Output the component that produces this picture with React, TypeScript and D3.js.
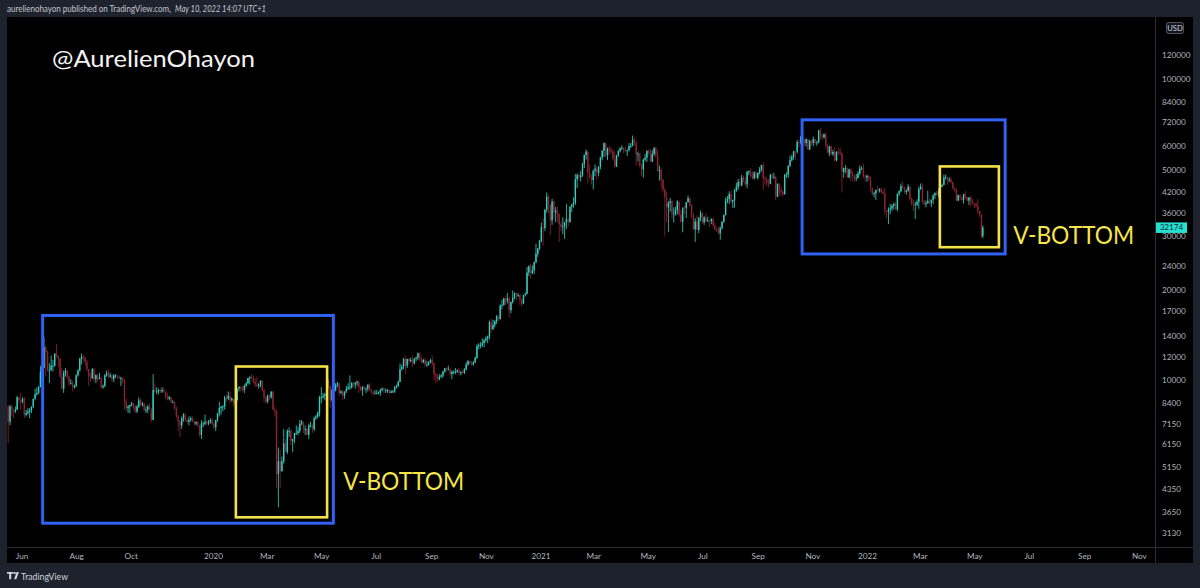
import React from 'react';
import * as d3 from 'd3';

const W = 1200;
const H = 588;

// BTCUSD, two-day candles starting 2019-05-16; values in hundreds of USD: [high, low, close]
const START = '2019-05-16';
const FIRST_OPEN = 82;

const candles2019 = [
  [83,62,73],[83,71,82],[83,76,80],[80,75,79],[82,78,80],[89,80,88],[88,84,86],[91,80,85],[88,84,87],[88,75,77],
  [80,76,78],[81,77,79],[81,75,80],[82,78,82],[87,81,87],[94,86,90],[95,89,91],[96,90,95],[112,95,107],[113,104,110],
  [139,110,129],[131,103,124],[126,107,108],[114,98,108],[121,108,112],[117,107,112],[123,111,123],[132,119,121],[121,111,118],[119,102,103],
  [110,93,94],[108,91,106],[110,103,108],[108,101,103],[104,96,98],[101,97,98],[100,92,95],[97,94,96],[105,95,104],[109,103,108],
  [119,107,118],[123,113,120],[122,116,119],[120,112,115],[117,107,109],[109,96,103],[106,99,102],[110,101,109],[110,99,101],[105,98,104],
  [105,99,101],[106,101,102],[103,94,95],[97,94,96],[105,95,104],[108,103,106],[109,102,103],[106,102,104],[105,99,101],[105,99,104],
  [105,102,104],[104,101,103],[104,101,102],[103,96,102],[102,98,100],[101,80,85],[87,79,81],[83,78,82],[83,78,83],[85,82,84],
  [84,80,82],[83,78,79],[83,78,82],[88,81,86],[87,82,83],[85,82,84],[84,79,80],[82,78,80],[83,78,82],[84,80,80],
  [81,73,74],[105,74,93],[98,91,92],[95,90,92],[94,90,93],[94,91,92],[95,91,93],[95,91,92],[92,87,88],[91,86,87],
  [89,86,88],[88,84,85],[86,84,85],[85,80,81],[82,75,76],[77,68,73],[74,65,71],[76,69,75],[78,73,77],[78,73,74],
  [75,72,73],[76,71,74],[76,73,75],[76,73,73],[74,71,72],[73,71,73],[73,70,71],[71,65,66],[74,64,72],[73,70,72],
  [77,71,73],[74,71,72],[74,71,73],[75,72,74],[75,71,72],
];

const candles2020 = [
  [73,69,70],[74,68,74],[78,73,78],[85,76,81],[82,77,82],[83,79,82],[89,80,88],[90,85,87],[92,86,89],[92,84,86],
  [88,85,87],[87,82,84],[86,82,86],[94,86,94],[96,92,95],[96,92,94],[96,92,93],[97,91,96],[99,95,98],[102,97,102],
  [103,97,103],[105,101,102],[104,98,99],[102,95,97],[103,95,96],[98,94,97],[100,95,100],[100,92,93],[94,85,88],[89,84,85],
  [90,84,89],[90,86,88],[92,87,92],[92,80,80],[82,76,79],[80,44,49],[60,38,54],[59,44,50],[56,50,54],[69,53,62],
  [64,58,58],[69,57,68],[70,65,68],[69,61,63],[64,58,64],[67,62,67],[71,66,67],[70,66,68],[74,67,72],[74,71,73],
  [73,67,69],[71,66,69],[70,66,66],[72,64,71],[73,70,71],[72,67,69],[76,68,75],[77,74,76],[79,75,78],[89,76,88],
  [95,84,88],[91,87,89],[91,86,90],[100,89,100],[101,94,96],[96,81,86],[94,85,93],[99,92,93],[98,92,97],[99,95,98],
  [98,89,91],[93,90,92],[93,86,89],[92,87,92],[96,91,94],[98,93,95],[104,93,95],[99,94,98],[99,95,97],[99,94,98],
  [100,96,99],[100,91,95],[96,92,93],[96,89,95],[96,93,94],[95,91,94],[97,92,97],[98,92,93],[94,90,92],[92,89,91],
  [93,90,91],[93,90,91],[92,90,91],[94,89,93],[95,92,94],[95,91,93],[94,91,93],[94,91,93],[93,90,91],[93,91,92],
  [93,91,92],[96,91,95],[97,94,96],[100,95,99],[114,99,109],[113,108,111],[119,109,118],[121,105,112],[118,110,118],[119,113,116],
  [119,115,117],[121,111,114],[119,113,118],[120,116,119],[124,117,123],[124,116,118],[120,114,115],[118,114,117],[119,111,113],[116,111,113],
  [116,112,115],[118,114,117],[121,112,114],[115,100,105],[106,98,103],[105,99,101],[105,100,103],[105,102,104],[108,102,107],[110,106,110],
  [111,107,109],[112,108,109],[110,103,105],[108,101,107],[108,105,107],[110,105,107],[109,106,108],[110,104,106],[107,104,107],[109,105,106],
  [110,105,109],[115,108,113],[117,112,116],[116,113,114],[116,112,113],[116,112,115],[120,114,119],[132,118,130],[133,127,131],[134,128,131],
  [138,129,133],[137,129,136],[140,134,138],[141,133,140],[158,137,156],[160,144,148],[159,147,153],[159,150,157],[165,154,163],[164,157,160],
  [179,159,177],[185,172,178],[188,177,187],[190,178,184],[195,180,187],[190,162,171],[183,167,182],[199,180,188],[196,186,195],[196,185,192],
  [195,189,192],[193,178,186],[187,176,180],[192,179,192],[196,190,194],[238,193,228],[241,222,239],[244,218,227],[241,225,232],[248,226,247],
  [284,245,263],[275,257,274],[293,271,290],
];

const candles2021 = [
  [334,287,322],[346,280,320],[370,313,368],[420,360,407],[414,358,382],[384,304,340],[400,328,392],[395,345,361],[376,335,366],[377,335,356],
  [359,288,330],[336,313,323],[348,306,325],[336,295,335],[385,318,343],[347,324,335],[378,334,377],[385,362,383],[405,374,389],[484,382,465],
  [486,435,480],[489,461,472],[496,457,479],[527,474,522],[562,506,559],[584,540,574],[576,450,489],[520,467,470],[482,446,462],[499,430,496],
  [521,476,504],[515,464,488],[514,475,510],[551,501,549],[580,537,578],[617,551,612],[614,548,557],[592,538,589],[600,565,583],[593,562,574],
  [582,535,543],[578,507,513],[560,510,559],[581,550,576],[594,570,588],[603,582,590],[595,567,582],[594,570,580],[583,555,581],[612,574,598],
  [613,590,599],[649,597,629],[638,603,614],[625,515,562],[574,532,565],[567,509,517],[522,475,501],[545,471,540],[564,533,548],[579,530,578],
  [585,561,566],[584,530,532],[580,530,564],[595,555,589],[597,544,559],[581,493,495],[516,460,499],[506,435,464],[465,420,429],[435,300,406],
  [423,335,375],[393,311,388],[403,363,393],[398,343,357],[375,334,357],[377,352,367],[396,355,392],[392,349,355],[368,334,336],[375,310,374],
  [381,356,373],[391,346,390],[411,389,402],[405,376,381],[385,344,355],[360,316,317],[345,288,337],[352,315,316],[348,308,347],[366,337,359],
  [361,330,335],[351,328,347],[358,334,337],[349,335,339],[340,323,338],[345,330,343],[347,323,327],[333,315,318],[322,311,315],[324,304,308],
  [324,293,321],[337,316,336],[355,333,354],[405,352,394],[409,387,400],[424,385,415],[424,388,392],[398,373,397],[432,374,428],[452,422,438],
  [466,428,456],[468,437,444],[481,441,471],[478,455,459],[472,440,447],[495,434,493],[498,479,493],[505,472,477],[493,464,468],[494,464,489],
  [496,469,470],[490,464,488],[510,482,500],[519,492,518],[529,428,468],[477,446,464],[472,440,452],[465,437,449],[484,447,481],[488,466,473],
  [488,466,473],[476,396,407],[450,405,449],[451,409,427],[441,410,422],[428,407,415],[484,413,481],[490,470,482],[517,470,515],[557,510,538],
  [561,532,550],[578,540,575],[577,538,574],[627,565,617],[626,593,615],[647,607,643],[670,620,622],[634,600,613],[635,596,631],[632,581,584],
  [628,580,623],[627,600,613],[644,598,632],[635,605,614],[624,600,615],[678,612,675],[690,628,649],[659,628,641],[660,633,655],[666,587,601],
  [608,566,569],[600,555,597],[602,559,563],[582,555,572],[594,532,537],[576,533,573],[590,560,570],[593,557,565],[575,420,492],[508,470,506],
  [518,487,506],[508,470,471],[504,469,501],[505,458,484],[495,460,476],[481,455,469],[484,458,469],[495,468,486],[517,480,504],[513,498,507],
  [523,470,475],[483,456,471],[481,456,477],
];

const candles2022 = [
  [479,460,464],[476,424,434],[436,410,415],[423,405,418],[431,397,427],[442,424,426],[434,420,431],[437,416,422],[428,413,417],[435,355,365],
  [366,345,363],[375,330,369],[385,356,372],[384,365,379],[389,369,385],[392,367,369],[417,364,416],[428,409,424],[450,421,441],[458,430,436],
  [439,417,422],[430,413,426],[448,422,439],[442,395,400],[405,380,384],[396,364,383],[392,343,383],[399,379,391],[440,371,432],[450,428,440],
  [450,386,391],[397,380,384],[395,375,387],[426,386,394],[400,382,388],[399,376,397],[415,385,411],[421,400,418],[425,409,413],[434,405,424],
  [443,418,440],[450,437,445],[482,444,471],[481,464,471],[475,446,463],[472,455,464],[472,450,455],[456,429,434],[439,421,428],[434,393,395],
  [414,393,411],[414,396,405],[407,395,397],[416,386,415],[425,400,405],[407,393,395],[406,382,404],[409,378,392],[400,383,386],[389,373,385],
  [390,374,377],[400,356,365],[365,348,355],[356,298,301],[327,297,321.74],
];

const priceTicks = [120000, 100000, 84000, 72000, 60000, 50000, 42000, 36000, 30000, 24000, 20000, 17000, 14000, 12000, 10000, 8400, 7150, 6150, 5150, 4350, 3650, 3130];
const timeTickDates = ['2019-06-01','2019-08-01','2019-10-01','2020-01-01','2020-03-01','2020-05-01','2020-07-01','2020-09-01','2020-11-01','2021-01-01','2021-03-01','2021-05-01','2021-07-01','2021-09-01','2021-11-01','2022-01-01','2022-03-01','2022-05-01','2022-07-01','2022-09-01','2022-11-01'];
const timeTickLabels = ['Jun','Aug','Oct','2020','Mar','May','Jul','Sep','Nov','2021','Mar','May','Jul','Sep','Nov','2022','Mar','May','Jul','Sep','Nov'];

const LAST_PRICE = 32174;

// annotation boxes: [startDate, endDate, topPrice, bottomPrice]
const blueBoxes: [string, string, number, number][] = [
  ['2019-06-24', '2020-05-14', 16430, 3365],
  ['2021-10-20', '2022-06-04', 73150, 26280],
];
const yellowBoxes: [string, string, number, number][] = [
  ['2020-01-26', '2020-05-07', 11130, 3520],
  ['2022-03-23', '2022-05-28', 51260, 27670],
];
const vLabels: [string, number][] = [
  ['2020-05-25', 4350],
  ['2022-06-13', 28450],
];

const BG = '#1e222d';
const UP = '#35cdbd';
const DOWN = '#8a2432';
const AXIS_TXT = '#b2b5be';
const FONT = 'Lato, "Open Sans", sans-serif';

export default function App() {
  const parse = d3.utcParse('%Y-%m-%d');
  const x = d3.scaleUtc()
    .domain([parse('2020-01-01') as Date, parse('2022-01-01') as Date])
    .range([213.5, 867.4]);
  const y = d3.scaleLog().domain([3130, 120000]).range([532.7, 55]);

  const plot = { left: 7, right: 1155, top: 17, bottom: 547 };

  const all = [...candles2019, ...candles2020, ...candles2021, ...candles2022];
  const start = parse(START) as Date;
  let prev = FIRST_OPEN;
  const bars = all.map((d, i) => {
    const [h, l, c] = d;
    const o = prev;
    prev = c;
    const day = d3.utcDay.offset(start, i * 2);
    const isLast = i === all.length - 1;
    const t = d3.utcHour.offset(day, isLast ? 0 : 12);
    return { t, o: o * 100, h: h * 100, l: l * 100, c: c * 100 };
  });

  const boxRect = (b: [string, string, number, number]) => {
    const x0 = x(parse(b[0]) as Date);
    const x1 = x(parse(b[1]) as Date);
    const y0 = y(b[2]);
    const y1 = y(b[3]);
    return { x: x0, y: y0, w: x1 - x0, h: y1 - y0 };
  };

  const yLast = y(LAST_PRICE);

  return (
    <svg width={W} height={H} style={{ position: 'absolute', left: 0, top: 0, display: 'block' }}
      xmlns="http://www.w3.org/2000/svg">
      <rect x={0} y={0} width={W} height={H} fill={BG} />
      <text x={7} y={11.5} fontFamily={FONT} fontSize={8.6} fill="#c3c6ce" textLength={164} lengthAdjust="spacingAndGlyphs">aurelienohayon published on TradingView.com,</text>
      <text x={175} y={11.5} fontFamily={FONT} fontSize={8.6} fontStyle="italic" fill="#c3c6ce" textLength={91} lengthAdjust="spacingAndGlyphs">May 10, 2022 14:07 UTC+1</text>

      {/* chart panel */}
      <rect x={7} y={17} width={1186} height={546} fill="#000" />
      <line x1={plot.right + 0.5} x2={plot.right + 0.5} y1={17} y2={563} stroke="#2a2e39" />
      <line x1={7} x2={1193} y1={plot.bottom + 0.5} y2={plot.bottom + 0.5} stroke="#2a2e39" />

      <defs>
        <clipPath id="plotclip">
          <rect x={plot.left} y={plot.top} width={plot.right - plot.left} height={plot.bottom - plot.top} />
        </clipPath>
      </defs>

      {/* watermark */}
      <text x={52} y={67} fontFamily={FONT} fontSize={24} fill="#f2f2f2" textLength={203} lengthAdjust="spacingAndGlyphs">@AurelienOhayon</text>

      <g clipPath="url(#plotclip)">
        {bars.map((b, i) => {
          const cx = x(b.t);
          const up = b.c >= b.o;
          const col = up ? UP : DOWN;
          const yh = y(b.h), yl = y(b.l);
          const yo = y(b.o), yc = y(b.c);
          const top = Math.min(yo, yc);
          const bh = Math.max(0.8, Math.abs(yo - yc));
          return (
            <g key={i}>
              <rect x={cx - 0.45} y={yh} width={0.9} height={yl - yh} fill={col} opacity={0.9} />
              <rect x={cx - 0.7} y={top} width={1.4} height={bh} fill={col} />
            </g>
          );
        })}
      </g>

      {/* annotation boxes */}
      {blueBoxes.map((b, i) => {
        const r = boxRect(b);
        return <rect key={'b' + i} x={r.x} y={r.y} width={r.w} height={r.h} fill="none" stroke="#2f62f5" strokeWidth={3} />;
      })}
      {yellowBoxes.map((b, i) => {
        const r = boxRect(b);
        return <rect key={'y' + i} x={r.x} y={r.y} width={r.w} height={r.h} fill="none" stroke="#f3e24a" strokeWidth={2.6} />;
      })}
      {vLabels.map((v, i) => (
        <text key={'v' + i} x={x(parse(v[0]) as Date)} y={y(v[1])} fontFamily={FONT} fontSize={25}
          fill="#f6e64a" textLength={121} lengthAdjust="spacingAndGlyphs">V-BOTTOM</text>
      ))}

      {/* price axis */}
      {priceTicks.map((p) => (
        <text key={p} x={1162} y={y(p)} dy="0.35em" fontFamily={FONT} fontSize={8.2} fill={AXIS_TXT}>{p}</text>
      ))}
      <rect x={1166.5} y={22.5} width={17} height={11} rx={2} fill="#131722" stroke="#50535e" />
      <text x={1175} y={28} dy="0.35em" textAnchor="middle" fontFamily={FONT} fontSize={7.6} fill="#d1d4dc">USD</text>

      <rect x={1156} y={yLast - 5} width={31} height={10.5} fill="#26e0d2" />
      <text x={1171.5} y={yLast} dy="0.36em" textAnchor="middle" fontFamily={FONT} fontSize={8.2} fill="#0d2a33">{LAST_PRICE}</text>

      {/* time axis */}
      {timeTickDates.map((d, i) => (
        <text key={d} x={x(parse(d) as Date)} y={556} dy="0.35em" textAnchor="middle" fontFamily={FONT}
          fontSize={8.2} fill={AXIS_TXT}>{timeTickLabels[i]}</text>
      ))}

      {/* TradingView footer */}
      <g fill="#d1d4dc">
        <path d="M7,572 h6.5 v1.8 h-2.3 v5.4 h-2 v-5.4 h-2.2 z" />
        <circle cx={14.8} cy={573.1} r={1.1} />
        <path d="M16.6,572 h2.3 l-2.6,7.2 h-2.2 z" />
      </g>
      <text x={21} y={579.5} fontFamily={FONT} fontSize={9.6} fill="#d1d4dc" textLength={47} lengthAdjust="spacingAndGlyphs">TradingView</text>
    </svg>
  );
}
